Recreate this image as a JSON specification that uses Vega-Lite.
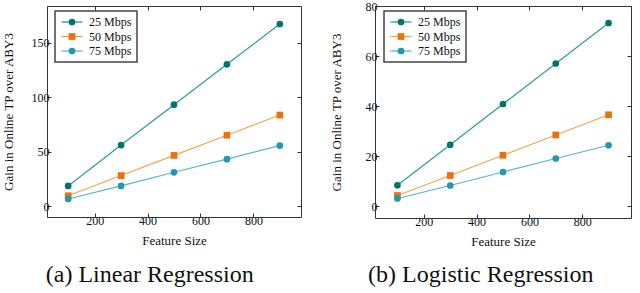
{
  "$schema": "https://vega.github.io/schema/vega-lite/v6.json",
  "padding": {"left": 2, "top": 0, "right": 0, "bottom": 0},
  "spacing": 28,
  "datasets": {
    "linear": [
      {"feature": 100, "gain": 18.5, "series": "25 Mbps"},
      {"feature": 300, "gain": 56, "series": "25 Mbps"},
      {"feature": 500, "gain": 93, "series": "25 Mbps"},
      {"feature": 700, "gain": 130, "series": "25 Mbps"},
      {"feature": 900, "gain": 167, "series": "25 Mbps"},
      {"feature": 100, "gain": 9.5, "series": "50 Mbps"},
      {"feature": 300, "gain": 28, "series": "50 Mbps"},
      {"feature": 500, "gain": 46.5, "series": "50 Mbps"},
      {"feature": 700, "gain": 65, "series": "50 Mbps"},
      {"feature": 900, "gain": 83.5, "series": "50 Mbps"},
      {"feature": 100, "gain": 6.5, "series": "75 Mbps"},
      {"feature": 300, "gain": 18.5, "series": "75 Mbps"},
      {"feature": 500, "gain": 31, "series": "75 Mbps"},
      {"feature": 700, "gain": 43, "series": "75 Mbps"},
      {"feature": 900, "gain": 55.5, "series": "75 Mbps"}
    ],
    "logistic": [
      {"feature": 100, "gain": 8.3, "series": "25 Mbps"},
      {"feature": 300, "gain": 24.5, "series": "25 Mbps"},
      {"feature": 500, "gain": 40.8, "series": "25 Mbps"},
      {"feature": 700, "gain": 57, "series": "25 Mbps"},
      {"feature": 900, "gain": 73.2, "series": "25 Mbps"},
      {"feature": 100, "gain": 4.2, "series": "50 Mbps"},
      {"feature": 300, "gain": 12.2, "series": "50 Mbps"},
      {"feature": 500, "gain": 20.3, "series": "50 Mbps"},
      {"feature": 700, "gain": 28.4, "series": "50 Mbps"},
      {"feature": 900, "gain": 36.5, "series": "50 Mbps"},
      {"feature": 100, "gain": 3, "series": "75 Mbps"},
      {"feature": 300, "gain": 8.2, "series": "75 Mbps"},
      {"feature": 500, "gain": 13.6, "series": "75 Mbps"},
      {"feature": 700, "gain": 19, "series": "75 Mbps"},
      {"feature": 900, "gain": 24.3, "series": "75 Mbps"}
    ]
  },
  "hconcat": [
    {
      "width": 254,
      "height": 211,
      "title": {"text": "(a) Linear Regression", "orient": "bottom", "anchor": "middle", "frame": "bounds", "offset": 16, "dx": -2},
      "data": {"name": "linear"},
      "layer": [
        {
          "mark": {"type": "line", "strokeWidth": 1.2},
          "encoding": {
            "x": {"field": "feature", "type": "quantitative", "scale": {"domain": [20, 980], "nice": false, "zero": false},
                  "axis": {"orient": "bottom", "values": [200, 400, 600, 800], "title": "Feature Size"}},
            "y": {"field": "gain", "type": "quantitative", "scale": {"domain": [-10, 183.5], "nice": false, "zero": false},
                  "axis": {"orient": "left", "values": [0, 50, 100, 150], "title": "Gain in Online TP over ABY3", "titlePadding": 16}},
            "color": {"field": "series", "type": "nominal",
                      "scale": {"domain": ["25 Mbps", "50 Mbps", "75 Mbps"], "range": ["#2b9c97", "#f6a24a", "#57b6c9"]},
                      "legend": {"orient": "none", "legendX": 8, "legendY": 5, "title": null, "symbolType": "M-3,0H3", "symbolSize": 49, "symbolOffset": 6, "labelOffset": 11, "symbolStrokeWidth": 1.3, "strokeColor": "#444", "padding": 5, "rowPadding": 2.5}}
          }
        },
        {
          "mark": {"type": "point", "filled": true, "size": 45, "opacity": 1},
          "encoding": {
            "x": {"field": "feature", "type": "quantitative", "scale": {"domain": [20, 980], "nice": false, "zero": false},
                  "axis": {"orient": "top", "values": [200, 400, 600, 800], "labels": false, "title": null}},
            "y": {"field": "gain", "type": "quantitative", "scale": {"domain": [-10, 183.5], "nice": false, "zero": false},
                  "axis": {"orient": "right", "values": [0, 50, 100, 150], "labels": false, "title": null}},
            "color": {"field": "series", "type": "nominal",
                      "scale": {"domain": ["25 Mbps", "50 Mbps", "75 Mbps"], "range": ["#00756c", "#e8720c", "#1e98b5"]},
                      "legend": {"orient": "none", "legendX": 8, "legendY": 5, "title": null, "symbolSize": 45, "symbolOffset": 6, "labelOffset": 11, "labelOpacity": 0, "symbolStrokeWidth": 0, "padding": 5, "rowPadding": 2.5}},
            "shape": {"field": "series", "type": "nominal",
                      "scale": {"domain": ["25 Mbps", "50 Mbps", "75 Mbps"], "range": ["circle", "square", "circle"]},
                      "legend": {"orient": "none", "legendX": 8, "legendY": 5, "title": null, "symbolSize": 45, "symbolOffset": 6, "labelOffset": 11, "labelOpacity": 0, "symbolStrokeWidth": 0, "padding": 5, "rowPadding": 2.5}}
          }
        }
      ],
      "resolve": {"scale": {"color": "independent", "shape": "independent"}, "axis": {"x": "independent", "y": "independent"}}
    },
    {
      "width": 256,
      "height": 212,
      "title": {"text": "(b) Logistic Regression", "orient": "bottom", "anchor": "middle", "frame": "bounds", "offset": 15},
      "data": {"name": "logistic"},
      "layer": [
        {
          "mark": {"type": "line", "strokeWidth": 1.2},
          "encoding": {
            "x": {"field": "feature", "type": "quantitative", "scale": {"domain": [15, 985], "nice": false, "zero": false},
                  "axis": {"orient": "bottom", "values": [200, 400, 600, 800], "title": "Feature Size"}},
            "y": {"field": "gain", "type": "quantitative", "scale": {"domain": [-4.8, 80], "nice": false, "zero": false},
                  "axis": {"orient": "left", "values": [0, 20, 40, 60, 80], "title": "Gain in Online TP over ABY3", "titlePadding": 22}},
            "color": {"field": "series", "type": "nominal",
                      "scale": {"domain": ["25 Mbps", "50 Mbps", "75 Mbps"], "range": ["#2b9c97", "#f6a24a", "#57b6c9"]},
                      "legend": {"orient": "none", "legendX": 9, "legendY": 5, "title": null, "symbolType": "M-3,0H3", "symbolSize": 49, "symbolOffset": 6, "labelOffset": 11, "symbolStrokeWidth": 1.3, "strokeColor": "#444", "padding": 5, "rowPadding": 2.5}}
          }
        },
        {
          "mark": {"type": "point", "filled": true, "size": 45, "opacity": 1},
          "encoding": {
            "x": {"field": "feature", "type": "quantitative", "scale": {"domain": [15, 985], "nice": false, "zero": false},
                  "axis": {"orient": "top", "values": [200, 400, 600, 800], "labels": false, "title": null}},
            "y": {"field": "gain", "type": "quantitative", "scale": {"domain": [-4.8, 80], "nice": false, "zero": false},
                  "axis": {"orient": "right", "values": [0, 20, 40, 60, 80], "labels": false, "title": null}},
            "color": {"field": "series", "type": "nominal",
                      "scale": {"domain": ["25 Mbps", "50 Mbps", "75 Mbps"], "range": ["#00756c", "#e8720c", "#1e98b5"]},
                      "legend": {"orient": "none", "legendX": 9, "legendY": 5, "title": null, "symbolSize": 45, "symbolOffset": 6, "labelOffset": 11, "labelOpacity": 0, "symbolStrokeWidth": 0, "padding": 5, "rowPadding": 2.5}},
            "shape": {"field": "series", "type": "nominal",
                      "scale": {"domain": ["25 Mbps", "50 Mbps", "75 Mbps"], "range": ["circle", "square", "circle"]},
                      "legend": {"orient": "none", "legendX": 9, "legendY": 5, "title": null, "symbolSize": 45, "symbolOffset": 6, "labelOffset": 11, "labelOpacity": 0, "symbolStrokeWidth": 0, "padding": 5, "rowPadding": 2.5}}
          }
        }
      ],
      "resolve": {"scale": {"color": "independent", "shape": "independent"}, "axis": {"x": "independent", "y": "independent"}}
    }
  ],
  "config": {
    "view": {"stroke": null},
    "font": "Liberation Serif",
    "axis": {
      "labelFont": "Liberation Serif", "titleFont": "Liberation Serif",
      "labelFontSize": 12, "titleFontSize": 13, "titleFontWeight": "normal",
      "labelColor": "#111", "titleColor": "#111",
      "grid": false, "tickSize": -4, "tickColor": "#333", "domainColor": "#333", "domainWidth": 1,
      "labelPadding": 2, "titlePadding": 8
    },
    "legend": {"labelFont": "Liberation Serif", "labelFontSize": 12, "labelColor": "#111", "strokeWidth": 1.5},
    "title": {"font": "Liberation Serif", "fontSize": 24, "fontWeight": "normal", "color": "#111"}
  }
}
